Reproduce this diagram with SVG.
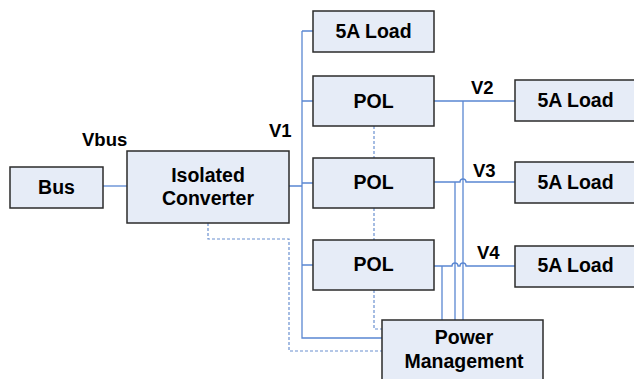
<svg xmlns="http://www.w3.org/2000/svg" width="634" height="379" viewBox="0 0 634 379">
<style>
.box{fill:#E6ECF7;stroke:#2b2b2b;stroke-width:1.5}
.t{font-family:"Liberation Sans",Arial,sans-serif;font-weight:bold;font-size:19.5px;fill:#000;text-anchor:middle}
.lbl{font-family:"Liberation Sans",Arial,sans-serif;font-weight:bold;font-size:18.5px;fill:#000}
.w{fill:none;stroke:#5A87D2;stroke-width:1.3}
.d{fill:none;stroke:#6A90D0;stroke-width:1.2;stroke-dasharray:3,2}
</style>
<rect width="634" height="379" fill="#fff"/>
<g id="connectors">
<path class="w" d="M103,186H127"/>
<path class="w" d="M289,186H302M302,31V338H382M302,31H313M302,101H313M302,183H313M302,265H313"/>
<path class="w" d="M434,101H515M463,101V320"/>
<path class="w" d="M434,182H460a3,3 0 0 1 6,0H515M455,182V320"/>
<path class="w" d="M434,266H452a3,3 0 0 1 6,0H460a3,3 0 0 1 6,0H515M442,266V320"/>
<path class="d" d="M208,223V239H289V351H382"/>
<path class="d" d="M374,126V158M374,208V240M374,290V329H382"/>
</g>
<g id="bus"><rect class="box" x="10" y="167" width="93" height="41"/><text class="t" x="56.5" y="194">Bus</text></g>
<g id="converter"><rect class="box" x="127" y="151" width="162" height="72"/><text class="t" x="208" y="182">Isolated</text><text class="t" x="208" y="205">Converter</text></g>
<g id="load1"><rect class="box" x="313" y="11" width="121" height="41"/><text class="t" x="373.5" y="38">5A Load</text></g>
<g id="pol1"><rect class="box" x="313" y="76" width="121" height="50"/><text class="t" x="373.5" y="108">POL</text></g>
<g id="pol2"><rect class="box" x="313" y="158" width="121" height="50"/><text class="t" x="373.5" y="189">POL</text></g>
<g id="pol3"><rect class="box" x="313" y="240" width="121" height="50"/><text class="t" x="373.5" y="271">POL</text></g>
<g id="load2"><rect class="box" x="515" y="80" width="130" height="41"/><text class="t" x="575.5" y="107">5A Load</text></g>
<g id="load3"><rect class="box" x="515" y="162" width="130" height="41"/><text class="t" x="575.5" y="189">5A Load</text></g>
<g id="load4"><rect class="box" x="515" y="246" width="130" height="41"/><text class="t" x="575.5" y="272">5A Load</text></g>
<g id="pm"><rect class="box" x="382" y="320" width="161" height="80"/><text class="t" x="464" y="344">Power</text><text class="t" x="464" y="368">Management</text></g>
<g id="labels">
<text class="lbl" x="82" y="146">Vbus</text>
<text class="lbl" x="269" y="137">V1</text>
<text class="lbl" x="471" y="94">V2</text>
<text class="lbl" x="473" y="177">V3</text>
<text class="lbl" x="477" y="259">V4</text>
</g>
</svg>
